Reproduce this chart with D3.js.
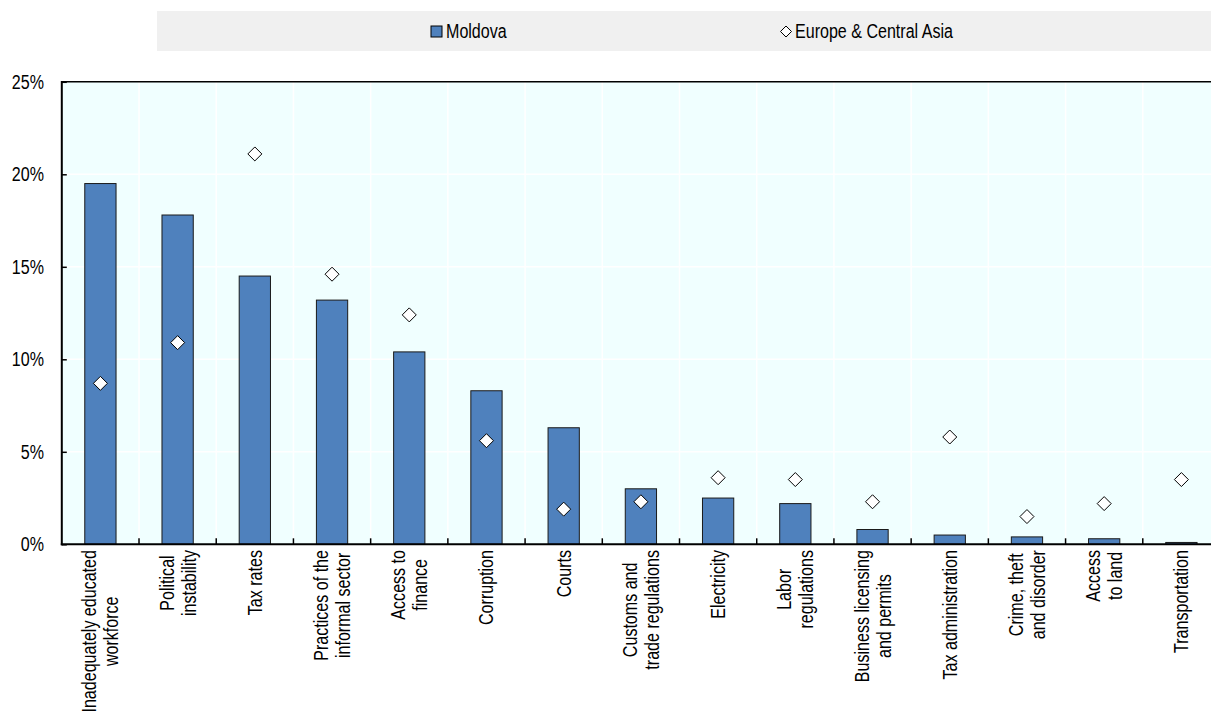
<!DOCTYPE html>
<html>
<head>
<meta charset="utf-8">
<script src="https://cdn.jsdelivr.net/npm/d3@7"></script>
<style>
  html, body { margin: 0; padding: 0; background: #ffffff; overflow: hidden; }
  svg { display: block; }
</style>
</head>
<body>
<svg id="chart" width="1211" height="711"></svg>
<script>
// ---- Data ----
const categories = [
  "Inadequately educated workforce", "Political instability", "Tax rates",
  "Practices of the informal sector", "Access to finance", "Corruption", "Courts",
  "Customs and trade regulations", "Electricity", "Labor regulations",
  "Business licensing and permits", "Tax administration", "Crime, theft and disorder",
  "Access to land", "Transportation"
];
const categoryLines = [
  ["Inadequately educated", "workforce"], ["Political", "instability"], ["Tax rates"],
  ["Practices of the", "informal sector"], ["Access to", "finance"], ["Corruption"], ["Courts"],
  ["Customs and", "trade regulations"], ["Electricity"], ["Labor", "regulations"],
  ["Business licensing", "and permits"], ["Tax administration"], ["Crime, theft", "and disorder"],
  ["Access", "to land"], ["Transportation"]
];
const moldova = [19.5, 17.8, 14.5, 13.2, 10.4, 8.3, 6.3, 3.0, 2.5, 2.2, 0.8, 0.5, 0.4, 0.3, 0.1];
const europeCentralAsia = [8.7, 10.9, 21.1, 14.6, 12.4, 5.6, 1.9, 2.3, 3.6, 3.5, 2.3, 5.8, 1.5, 2.2, 3.5];
const yTicks = [0, 5, 10, 15, 20, 25];
const yTickLabels = ["0%", "5%", "10%", "15%", "20%", "25%"];
const seriesNames = ["Moldova", "Europe & Central Asia"];

(function () {
// ---- Font handling (narrow face) ----
function hasFont(name) {
  const c = document.createElement("canvas").getContext("2d");
  c.font = "40px monospace";
  const w0 = c.measureText("Moldova abcxyz").width;
  c.font = `40px "${name}", monospace`;
  return Math.abs(c.measureText("Moldova abcxyz").width - w0) > 0.5;
}
let fontFamily, sx;
if (hasFont("Liberation Sans Narrow")) { fontFamily = '"Liberation Sans Narrow", "Arial Narrow", sans-serif'; sx = 1; }
else { fontFamily = '"Liberation Sans", Arial, sans-serif'; sx = 0.82; }
const fontSize = 19.6;

// ---- Layout ----
const svg = d3.select("#chart");
const pL = 61.8, pR = 1220, pT = 81.8, pB = 544.3;
const barColor = "#4F81BD";

const x = d3.scaleBand().domain(categories).range([pL, pR]).padding(0);
const y = d3.scaleLinear().domain([0, 25]).range([pB, pT]);
const bw = x.bandwidth();
const barW = bw * 0.405;

function hText(parent, xx, yy, str, anchor) {
  return parent.append("text")
    .attr("transform", `translate(${xx},${yy}) scale(${sx},1)`)
    .attr("text-anchor", anchor || "start")
    .attr("font-family", fontFamily).attr("font-size", fontSize).attr("fill", "#000")
    .text(str);
}
function diamondPath(cx, cy, r) {
  return `M${cx},${cy - r}L${cx + r},${cy}L${cx},${cy + r}L${cx - r},${cy}Z`;
}

// Legend
svg.append("rect").attr("x", 157).attr("y", 11).attr("width", 1100).attr("height", 40).attr("fill", "#F0F0F0");
svg.append("rect").attr("x", 431).attr("y", 26).attr("width", 11).attr("height", 11)
  .attr("fill", barColor).attr("stroke", "#000").attr("stroke-width", 1);
hText(svg, 446, 38, seriesNames[0]);
svg.append("path").attr("d", diamondPath(786, 31.5, 5.5)).attr("fill", "#fff").attr("stroke", "#000").attr("stroke-width", 1);
hText(svg, 795, 38, seriesNames[1]);

// Plot background
svg.append("rect").attr("x", pL).attr("y", pT).attr("width", pR - pL).attr("height", pB - pT).attr("fill", "#F0FFFF");

// Gridlines
svg.append("g").selectAll("line").data(yTicks.filter(d => d > 0 && d < 25)).join("line")
  .attr("x1", pL).attr("x2", pR).attr("y1", d => y(d)).attr("y2", d => y(d))
  .attr("stroke", "#fff").attr("stroke-width", 1.5);
const boundaries = categories.slice(1).map(c => x(c));
svg.append("g").selectAll("line").data(boundaries).join("line")
  .attr("x1", d => d).attr("x2", d => d).attr("y1", pT).attr("y2", pB)
  .attr("stroke", "#fff").attr("stroke-width", 1.5);

// Bars
svg.append("g").selectAll("rect").data(moldova).join("rect")
  .attr("x", (d, i) => x(categories[i]) + (bw - barW) / 2)
  .attr("y", d => y(d))
  .attr("width", barW)
  .attr("height", d => y(0) - y(d))
  .attr("fill", barColor).attr("stroke", "#1a1a1a").attr("stroke-width", 1);

// Diamonds
svg.append("g").selectAll("path").data(europeCentralAsia).join("path")
  .attr("d", (d, i) => diamondPath(x(categories[i]) + bw / 2, y(d), 7))
  .attr("fill", "#fff").attr("stroke", "#000").attr("stroke-width", 1);

// Top border
svg.append("line").attr("x1", pL).attr("x2", pR).attr("y1", pT).attr("y2", pT)
  .attr("stroke", "#000").attr("stroke-width", 1.5);

// Y axis
const yAxis = d3.axisLeft(y).tickValues(yTicks).tickSize(-5).tickFormat("");
const gy = svg.append("g").attr("transform", `translate(${pL},0)`).call(yAxis);
gy.select(".domain").remove();
gy.selectAll(".tick line").attr("stroke", "#000").attr("stroke-width", 1.5);
svg.append("line").attr("x1", pL).attr("x2", pL).attr("y1", pT - 0.75).attr("y2", pB + 1)
  .attr("stroke", "#000").attr("stroke-width", 2);
yTicks.forEach((t, i) => hText(svg, 44, y(t) + 7, yTickLabels[i], "end"));

// X axis ticks and line
svg.append("g").selectAll("line").data(boundaries).join("line")
  .attr("x1", d => d).attr("x2", d => d).attr("y1", pB).attr("y2", pB - 6)
  .attr("stroke", "#000").attr("stroke-width", 1.5);
svg.append("line").attr("x1", pL - 1).attr("x2", pR).attr("y1", pB).attr("y2", pB)
  .attr("stroke", "#000").attr("stroke-width", 2);

// X labels (rotated, centered lines, block starting just below axis)
categoryLines.forEach((lines, i) => {
  const cx = x(categories[i]) + bw / 2;
  const g = svg.append("g").attr("transform", `translate(${cx},550) rotate(-90)`);
  const n = lines.length;
  const texts = lines.map(ln => g.append("text")
    .attr("font-family", fontFamily).attr("font-size", fontSize).attr("fill", "#000")
    .attr("text-anchor", "middle")
    .text(ln));
  const maxLen = d3.max(texts, t => t.node().getComputedTextLength()) * sx;
  texts.forEach((t, j) => {
    const off = 7 + (j - (n - 1) / 2) * 22;
    t.attr("transform", `translate(${-maxLen / 2},${off}) scale(${sx},1)`);
  });
});
})();
</script>
</body>
</html>
